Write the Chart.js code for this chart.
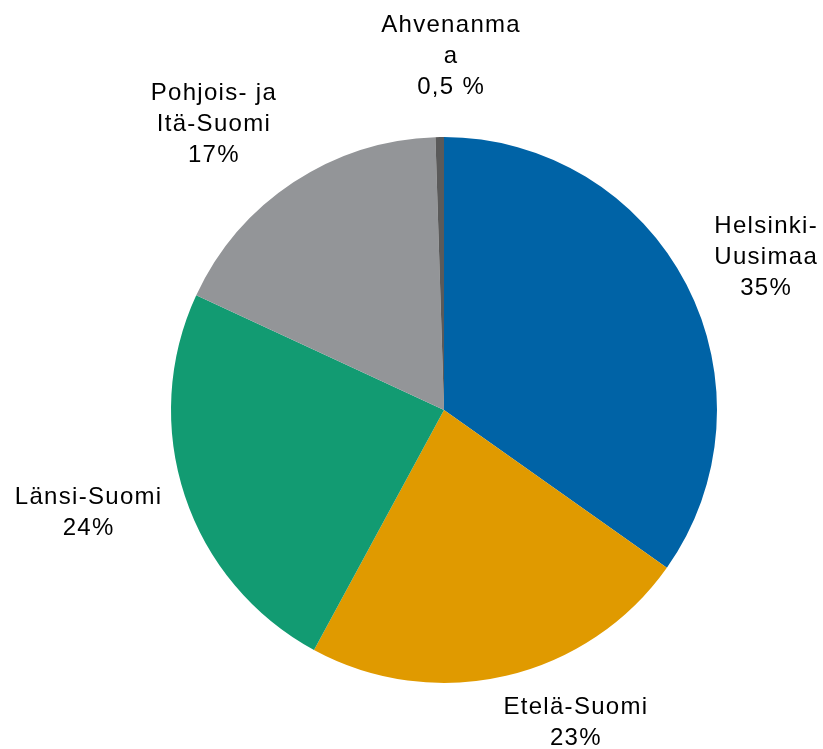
<!DOCTYPE html>
<html>
<head>
<meta charset="utf-8">
<script src="https://cdn.jsdelivr.net/npm/chart.js@4.4.0/dist/chart.umd.min.js"></script>
<style>
  html, body { margin: 0; padding: 0; background: #fff; }
  #wrap { width: 823px; height: 749px; position: relative; }
</style>
</head>
<body>
<div id="wrap"><canvas id="chartPie"></canvas></div>
<script>
// slices, clockwise from 12 o'clock
const regions = ["Helsinki-Uusimaa", "Etelä-Suomi", "Länsi-Suomi", "Pohjois- ja Itä-Suomi", "Ahvenanmaa"];
const shares = [34.8, 23.1, 24.0, 17.6, 0.5];
const labelLines = [
    ["Helsinki-", "Uusimaa", "35%"],
    ["Etelä-Suomi", "23%"],
    ["Länsi-Suomi", "24%"],
    ["Pohjois- ja", "Itä-Suomi", "17%"],
    ["Ahvenanma", "a", "0,5 %"],
];
const colors = ["#0063a6", "#e09a00", "#129b72", "#939598", "#5a5a5a"];

// label placement tweaks (px) from the default outside anchor
const labelNudge = [[8, 10], [51, -31], [-21, -8], [-36, 9], [12, -1]];

const el = (id) => document.getElementById(id);

const outsideLabels = {
    id: "outsideLabels",
    afterDatasetsDraw(chart) {
        const ctx = chart.ctx;
        const meta = chart.getDatasetMeta(0);
        ctx.save();
        ctx.font = "24px 'Liberation Sans', Arial, sans-serif";
        ctx.letterSpacing = "1.3px";
        ctx.fillStyle = "#000";
        ctx.textAlign = "center";
        ctx.textBaseline = "middle";
        const lineH = 31;
        meta.data.forEach((arc, i) => {
            const mid = (arc.startAngle + arc.endAngle) / 2;
            const d = arc.outerRadius + 80;
            const cx = arc.x + Math.cos(mid) * d + labelNudge[i][0];
            const cy = arc.y + Math.sin(mid) * d + labelNudge[i][1];
            const lines = labelLines[i];
            const top = cy - (lines.length - 1) * lineH / 2;
            lines.forEach((t, j) => ctx.fillText(t, cx + 0.65, top + j * lineH));
        });
        ctx.restore();
    }
};

new Chart(el("chartPie").getContext("2d"), {
    type: "pie",
    data: {
        labels: regions,
        datasets: [{
            data: shares,
            backgroundColor: colors,
            borderWidth: 0,
        }],
    },
    options: {
        responsive: true,
        maintainAspectRatio: false,
        animation: false,
        layout: { padding: { left: 171, right: 106, top: 137, bottom: 66 } },
        plugins: { legend: { display: false }, tooltip: { enabled: false } },
    },
    plugins: [outsideLabels],
});
</script>
</body>
</html>
